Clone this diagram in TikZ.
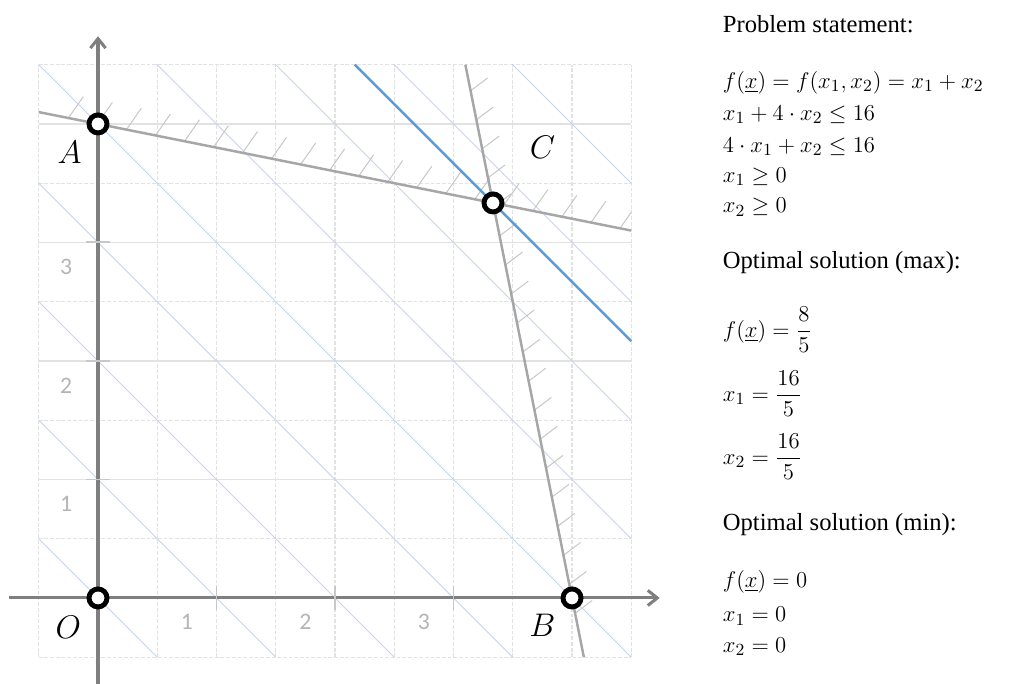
\documentclass[tikz,border=0pt]{standalone}
\usepackage{amsmath}
\usepackage{fontspec}
\setmainfont{Liberation Serif}
\newfontfamily\tickfont{Carlito}
\usetikzlibrary{arrows.meta}
\definecolor{axisgray}{HTML}{7F7F7F}
\definecolor{linegray}{HTML}{A6A6A6}
\definecolor{gridgray}{HTML}{E2E2E2}
\definecolor{hatchgray}{HTML}{C8C8C8}
\definecolor{tickgray}{HTML}{B4B4B4}
\definecolor{optblue}{HTML}{5B9BD5}
\definecolor{levelblue}{HTML}{C6D3EC}
\begin{document}
\begin{tikzpicture}[x=2.2cm, y=2.2cm, >={Straight Barb[length=5pt,width=8pt]},
    vertex/.style={circle, draw=black, fill=white, line width=2.6pt, minimum size=9.5pt, inner sep=0pt},
    ptlabel/.style={font=\fontsize{17}{20}\selectfont},
    ticklabel/.style={text=tickgray, font=\tickfont\fontsize{12.5}{14}\selectfont},
    tickmark/.style={hatchgray, line width=1pt},
    hatchline/.style={hatchgray, line width=0.55pt},
    constraint/.style={linegray, line width=1.3pt},
    txt/.style={anchor=base west, inner sep=0pt, font=\fontsize{13}{15}\selectfont}]
        \useasboundingbox (-0.827,-0.726) rectangle (7.848,5.046);
        \draw [gridgray, line width=0.6pt, dash pattern=on 2pt off 1pt] (-0.5,-0.5) grid[step=0.5] (4.5,4.5);
        \foreach \y in {0,...,4} \draw [gridgray, line width=0.6pt] (-0.5,\y)--(4.5,\y);
        \begin{scope}
            \clip (-0.5,-0.5) rectangle (4.5,4.5);
            \foreach \k in {0,...,8} \draw [levelblue, line width=0.5pt] (\k+0.5,-0.5)--(\k-5,5);
            \foreach \i in {0,...,19} \draw [hatchline] ({-0.25+0.245*\i},{4.05-0.049*\i})-- ++(55:0.22);
            \foreach \i in {0,...,18} \draw [hatchline] ({4.026-0.049*\i},{-0.13+0.245*\i})-- ++(37:0.18);
        \end{scope}
        \coordinate (AC1) at (-0.5,4.1); \coordinate (AC2) at (4.5,3.1);
        \coordinate (BC1) at (3.1,4.5); \coordinate (BC2) at (4.1,-0.5);
        \coordinate (F1) at (2.1667,4.5); \coordinate (F2) at (4.5,2.1667);
        \draw [constraint] (AC1)--(AC2);
        \draw [constraint] (BC1)--(BC2);
        \draw [optblue, line width=1.3pt] (F1)--(F2);
        \coordinate (xmin) at (-0.75,0); \coordinate (xmax) at (4.74,0);
        \coordinate (ymin) at (0,-0.73); \coordinate (ymax) at (0,4.74);
        \draw [->, axisgray, line width=1.6pt] (xmin)--(xmax);
        \draw [->, axisgray, line width=1.6pt] (ymin)--(ymax);
        \foreach \t in {1,2,3} {
            \draw [tickmark] (\t,-0.1)--(\t,0.1);
            \draw [tickmark] (-0.1,\t)--(0.1,\t);
            \node [ticklabel] (xt\t) at (\t-0.25,-0.2) {\t};
            \node [ticklabel] (yt\t) at (-0.27,\t-0.21) {\t};
        }
        \node [vertex] (O) at (0,0) {};
        \node [vertex] (A) at (0,4) {};
        \node [vertex] (B) at (4,0) {};
        \node [vertex] (C) at (10/3,10/3) {};
        \node [ptlabel] (labO) at (-0.25,-0.25) {$O$};
        \node [ptlabel] (labA) at (-0.24,3.76) {$A$};
        \node [ptlabel] (labB) at (3.75,-0.23) {$B$};
        \node [ptlabel] (labC) at (3.75,3.8) {$C$};

        \node [txt] (stmt) at (5.27,4.77) {Problem statement:};
        \node [txt] (obj) at (5.27,4.30) {$f(\underline{x})=f(x_1,x_2)=x_1+x_2$};
        \node [txt] (cone) at (5.27,4.03) {$x_1+4\cdot x_2\leq 16$};
        \node [txt] (ctwo) at (5.27,3.76) {$4\cdot x_1+x_2\leq 16$};
        \node [txt] (cthree) at (5.27,3.51) {$x_1\geq 0$};
        \node [txt] (cfour) at (5.27,3.25) {$x_2\geq 0$};
        \node [txt] (maxhead) at (5.27,2.78) {Optimal solution (max):};
        \node [txt] (maxf) at (5.27,2.20) {$f(\underline{x})=\dfrac{8}{5}$};
        \node [txt] (maxxa) at (5.27,1.66) {$x_1=\dfrac{16}{5}$};
        \node [txt] (maxxb) at (5.27,1.13) {$x_2=\dfrac{16}{5}$};
        \node [txt] (minhead) at (5.27,0.57) {Optimal solution (min):};
        \node [txt] (minf) at (5.27,0.09) {$f(\underline{x})=0$};
        \node [txt] (minxa) at (5.27,-0.20) {$x_1=0$};
        \node [txt] (minxb) at (5.27,-0.46) {$x_2=0$};
\end{tikzpicture}
\end{document}
